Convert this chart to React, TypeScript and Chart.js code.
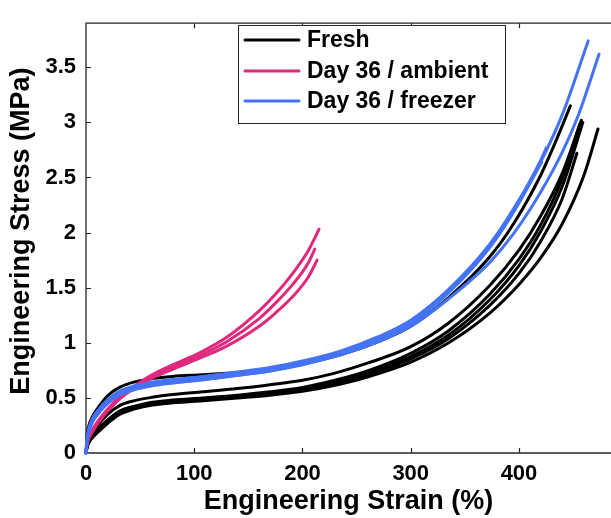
import React, { useEffect, useRef } from 'react';
import { Chart, registerables } from 'chart.js';

Chart.register(...registerables);

// ---------- data ----------
const seriesNames = ['Fresh', 'Day 36 / ambient', 'Day 36 / freezer'];
const seriesColors = ['#000000', '#E0287D', '#4573F5'];
const xTickValues = [0, 100, 200, 300, 400];
const yTickValues = [0, 0.5, 1, 1.5, 2, 2.5, 3, 3.5];
const xTitle = 'Engineering Strain (%)';
const yTitle = 'Engineering Stress (MPa)';

// Fresh (black)
const fresh1X = [0, 1, 3, 6, 9, 20, 31, 45, 61, 80, 108, 140, 170, 200, 235, 270, 300, 335, 373, 395, 419, 431, 447.5];
const fresh1Y = [0, 0.15, 0.26, 0.33, 0.38, 0.52, 0.595, 0.645, 0.675, 0.695, 0.71, 0.73, 0.76, 0.81, 0.89, 1.01, 1.15, 1.41, 1.78, 2.08, 2.5, 2.76, 3.15];
const fresh2X = [0, 1, 3, 6, 9, 20, 31, 45, 61, 80, 108, 140, 170, 200, 230, 260, 299, 335, 373, 400, 420, 440, 457.6];
const fresh2Y = [0, 0.08, 0.14, 0.19, 0.23, 0.35, 0.43, 0.475, 0.505, 0.53, 0.555, 0.585, 0.62, 0.66, 0.725, 0.815, 0.96, 1.18, 1.52, 1.84, 2.15, 2.54, 3.02];
const fresh3X = [0, 1, 3, 6, 9, 20, 31, 45, 61, 80, 108, 140, 170, 200, 230, 260, 299, 335, 373, 400, 420, 440, 459];
const fresh3Y = [0, 0.06, 0.11, 0.15, 0.19, 0.29, 0.37, 0.415, 0.45, 0.47, 0.49, 0.515, 0.545, 0.585, 0.645, 0.725, 0.87, 1.07, 1.39, 1.7, 2.01, 2.42, 3.0];
const fresh4X = [0, 1, 3, 6, 9, 20, 31, 45, 61, 80, 108, 140, 170, 200, 230, 260, 299, 335, 373, 400, 420, 440, 460, 473];
const fresh4Y = [0, 0.05, 0.1, 0.14, 0.17, 0.27, 0.35, 0.4, 0.435, 0.455, 0.475, 0.5, 0.525, 0.56, 0.615, 0.69, 0.82, 1.0, 1.27, 1.53, 1.77, 2.08, 2.52, 2.94];
const fresh5X = [0, 1, 3, 6, 9, 20, 31, 45, 61, 80, 108, 140, 170, 200, 230, 260, 299, 335, 373, 400, 420, 440, 453.5];
const fresh5Y = [0, 0.055, 0.105, 0.145, 0.18, 0.28, 0.36, 0.405, 0.44, 0.46, 0.48, 0.505, 0.535, 0.57, 0.63, 0.71, 0.85, 1.04, 1.34, 1.63, 1.92, 2.31, 2.72];
const fresh6X = [0, 1, 3, 6, 9, 20, 31, 45, 61, 80, 108, 140, 170, 200, 230, 260, 299, 335, 373, 400, 420, 440, 456];
const fresh6Y = [0, 0.065, 0.115, 0.155, 0.195, 0.3, 0.38, 0.425, 0.46, 0.48, 0.5, 0.525, 0.555, 0.595, 0.66, 0.745, 0.9, 1.11, 1.44, 1.76, 2.07, 2.49, 2.98];

// Day 36 / ambient (pink)
const ambient1X = [0, 1, 3, 6, 9, 15, 20, 31, 45, 61, 80, 105, 130, 160, 175, 191, 205, 215.3];
const ambient1Y = [0, 0.1, 0.16, 0.21, 0.26, 0.34, 0.4, 0.51, 0.61, 0.71, 0.8, 0.91, 1.05, 1.29, 1.44, 1.63, 1.83, 2.03];
const ambient2X = [0, 1, 3, 6, 9, 15, 20, 31, 45, 61, 80, 105, 130, 160, 175, 191, 205, 211.4];
const ambient2Y = [0, 0.09, 0.15, 0.2, 0.25, 0.33, 0.39, 0.5, 0.6, 0.69, 0.78, 0.885, 1.01, 1.22, 1.36, 1.53, 1.72, 1.85];
const ambient3X = [0, 1, 3, 6, 9, 15, 20, 31, 45, 61, 80, 105, 130, 160, 175, 191, 205, 213.5];
const ambient3Y = [0, 0.08, 0.14, 0.19, 0.24, 0.32, 0.38, 0.49, 0.59, 0.68, 0.76, 0.86, 0.97, 1.15, 1.27, 1.42, 1.59, 1.75];

// Day 36 / freezer (blue)
const freezer1X = [0, 1, 3, 6, 10, 20, 31, 45, 61, 80, 108, 140, 170, 200, 235, 270, 300, 335, 373, 395, 419, 440, 464];
const freezer1Y = [0, 0.12, 0.22, 0.3, 0.36, 0.47, 0.545, 0.595, 0.628, 0.652, 0.68, 0.72, 0.76, 0.82, 0.91, 1.04, 1.19, 1.47, 1.88, 2.2, 2.62, 3.07, 3.74];
const freezer2X = [0, 1, 3, 6, 10, 20, 31, 45, 61, 80, 108, 140, 170, 200, 235, 270, 300, 335, 373, 395, 419, 425.3];
const freezer2Y = [0, 0.13, 0.235, 0.315, 0.375, 0.485, 0.56, 0.61, 0.643, 0.667, 0.695, 0.735, 0.775, 0.835, 0.925, 1.055, 1.205, 1.485, 1.895, 2.215, 2.635, 2.77];
const freezer3X = [0, 1, 3, 6, 10, 20, 31, 45, 61, 80, 108, 140, 170, 200, 235, 270, 300, 335, 373, 395, 421];
const freezer3Y = [0, 0.11, 0.205, 0.285, 0.345, 0.455, 0.53, 0.58, 0.613, 0.637, 0.665, 0.705, 0.745, 0.805, 0.895, 1.025, 1.175, 1.455, 1.865, 2.185, 2.64];
const freezer4X = [0, 1, 3, 6, 10, 20, 31, 45, 61, 80, 108, 140, 170, 200, 235, 270, 300, 335, 373, 395, 419, 440, 455, 474];
const freezer4Y = [0, 0.11, 0.2, 0.28, 0.34, 0.45, 0.525, 0.575, 0.61, 0.635, 0.665, 0.705, 0.745, 0.8, 0.89, 1.01, 1.15, 1.4, 1.73, 1.99, 2.35, 2.73, 3.07, 3.62];

const freshCurves = [[fresh1X, fresh1Y], [fresh2X, fresh2Y], [fresh3X, fresh3Y], [fresh4X, fresh4Y], [fresh5X, fresh5Y], [fresh6X, fresh6Y]];
const ambientCurves = [[ambient1X, ambient1Y], [ambient2X, ambient2Y], [ambient3X, ambient3Y]];
const freezerCurves = [[freezer1X, freezer1Y], [freezer2X, freezer2Y], [freezer3X, freezer3Y], [freezer4X, freezer4Y]];

const FONT = "'Liberation Sans', Arial, Helvetica, sans-serif";
const AXIS_COLOR = '#262626';

function makeDatasets() {
  const groups = [freshCurves, ambientCurves, freezerCurves];
  const out: any[] = [];
  groups.forEach((curves, gi) => {
    curves.forEach(([xs, ys], ci) => {
      out.push({
        label: seriesNames[gi] + ' ' + (ci + 1),
        data: xs.map((x, i) => ({ x, y: ys[i] })),
        borderColor: seriesColors[gi],
        backgroundColor: seriesColors[gi],
        borderWidth: 3,
        pointRadius: 0,
        cubicInterpolationMode: 'monotone',
        borderCapStyle: 'round',
        borderJoinStyle: 'round',
        fill: false,
        clip: 6,
        order: 2 - gi,
      });
    });
  });
  return out;
}

const framePlugin = {
  id: 'frame',
  beforeDatasetsDraw(chart: any) {
    const { ctx, chartArea, scales } = chart;
    const { left, top, right, bottom } = chartArea;
    ctx.save();
    ctx.strokeStyle = AXIS_COLOR;
    ctx.lineWidth = 1.3;
    ctx.beginPath();
    ctx.moveTo(right + 2, top);
    ctx.lineTo(left, top);
    ctx.lineTo(left, bottom);
    ctx.lineTo(right + 2, bottom);
    ctx.stroke();
    ctx.lineWidth = 1.2;
    ctx.beginPath();
    xTickValues.forEach((v) => {
      if (v === 0) return;
      const px = Math.round(scales.x.getPixelForValue(v)) + 0.5;
      ctx.moveTo(px, bottom);
      ctx.lineTo(px, bottom - 5);
      ctx.moveTo(px, top);
      ctx.lineTo(px, top + 5);
    });
    yTickValues.forEach((v) => {
      if (v === 0) return;
      const py = Math.round(scales.y.getPixelForValue(v)) + 0.5;
      ctx.moveTo(left, py);
      ctx.lineTo(left + 5, py);
    });
    ctx.stroke();
    // y axis title (slightly above the plot centre, as in the original)
    ctx.fillStyle = '#000';
    ctx.font = `bold 27px ${FONT}`;
    ctx.textAlign = 'center';
    ctx.textBaseline = 'middle';
    ctx.translate(22, (top + bottom) / 2 - 7);
    ctx.rotate(-Math.PI / 2);
    ctx.fillText(yTitle, 0, 0);
    ctx.restore();
  },
};

const legendPlugin = {
  id: 'boxLegend',
  afterDatasetsDraw(chart: any) {
    const { ctx } = chart;
    const bx = 238, by = 25, bw = 267, bh = 98;
    ctx.save();
    ctx.fillStyle = '#ffffff';
    ctx.fillRect(bx, by, bw, bh);
    ctx.strokeStyle = AXIS_COLOR;
    ctx.lineWidth = 1;
    ctx.strokeRect(bx + 0.5, by + 0.5, bw, bh);
    const rows = [40, 71, 101];
    seriesNames.forEach((name, i) => {
      ctx.strokeStyle = seriesColors[i];
      ctx.lineWidth = 3;
      ctx.lineCap = 'round';
      ctx.beginPath();
      ctx.moveTo(245, rows[i]);
      ctx.lineTo(299, rows[i]);
      ctx.stroke();
      ctx.fillStyle = '#000';
      ctx.font = `bold 23px ${FONT}`;
      ctx.textBaseline = 'middle';
      ctx.textAlign = 'left';
      ctx.fillText(name, 307, rows[i] + 1);
    });
    ctx.restore();
  },
};

const tickFormat = (v: any) => String(Number(Number(v).toFixed(3)));

export default function App() {
  const canvasRef = useRef<HTMLCanvasElement | null>(null);

  useEffect(() => {
    if (!canvasRef.current) return;
    Chart.defaults.font.family = FONT;
    const chart = new Chart(canvasRef.current, {
      type: 'line',
      data: { datasets: makeDatasets() },
      options: {
        responsive: false,
        animation: false,
        devicePixelRatio: 1,
        layout: { padding: { top: 11, right: 0, left: 0, bottom: 0 } },
        plugins: { legend: { display: false }, tooltip: { enabled: false } },
        scales: {
          x: {
            type: 'linear',
            min: 0,
            max: 485,
            afterFit: (s: any) => { s.height = 65; },
            ticks: {
              stepSize: 100,
              includeBounds: false,
              color: '#000',
              padding: 8,
              maxRotation: 0,
              callback: tickFormat,
              font: { size: 22, weight: 'bold', family: FONT },
            },
            grid: { display: false, drawTicks: false },
            border: { display: false },
            title: {
              display: true,
              text: xTitle,
              color: '#000',
              font: { size: 27, weight: 'bold', family: FONT },
              padding: { top: 0, bottom: 0 },
            },
          },
          y: {
            type: 'linear',
            min: 0,
            max: 3.9,
            afterFit: (s: any) => { s.width = 86; },
            ticks: {
              stepSize: 0.5,
              includeBounds: false,
              color: '#000',
              padding: 10,
              callback: tickFormat,
              font: { size: 22, weight: 'bold', family: FONT },
            },
            grid: { display: false, drawTicks: false },
            border: { display: false },
            title: { display: false },
          },
        },
      } as any,
      plugins: [framePlugin, legendPlugin],
    });
    return () => chart.destroy();
  }, []);

  return (
    <div style={{ position: 'fixed', left: 0, top: 0, width: 611, height: 518, background: '#fff' }}>
      <canvas ref={canvasRef} width={611} height={518} style={{ display: 'block' }} />
    </div>
  );
}
